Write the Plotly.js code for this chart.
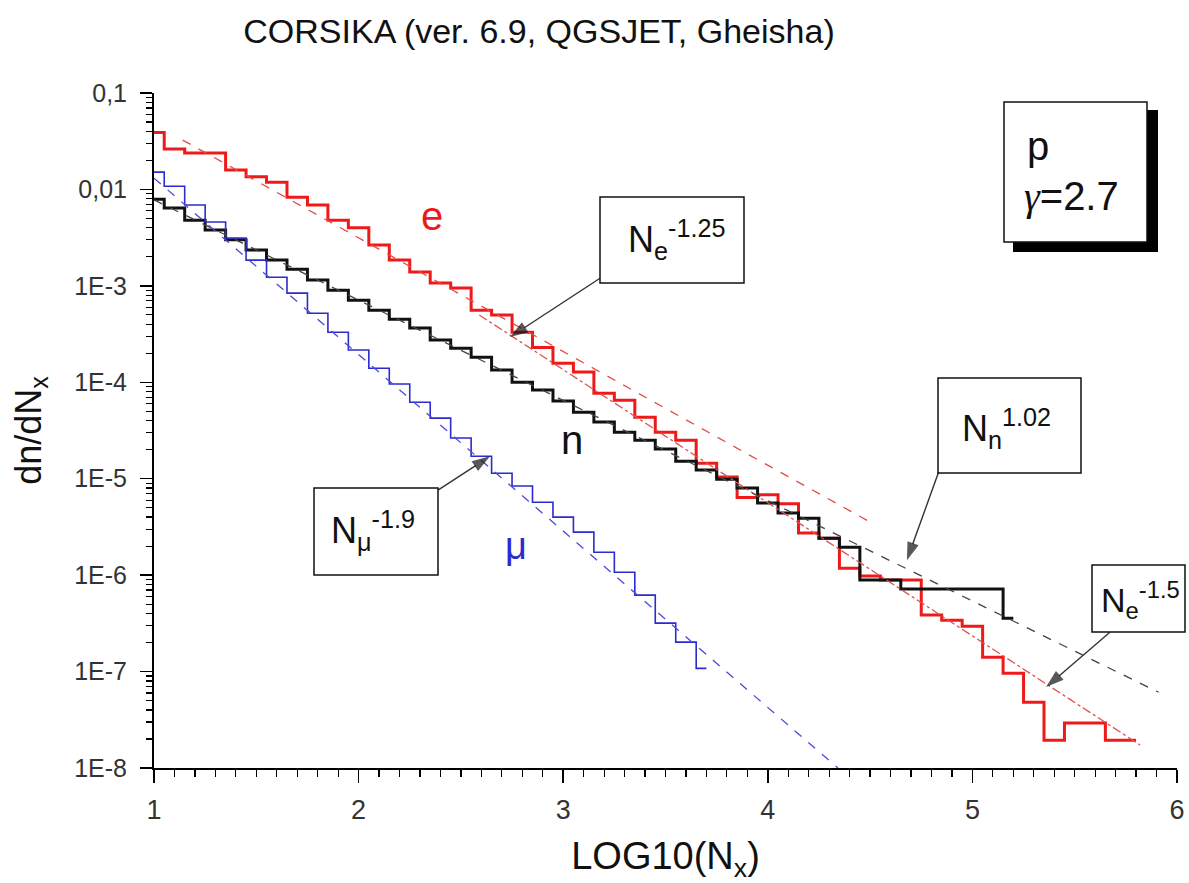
<!DOCTYPE html>
<html>
<head>
<meta charset="utf-8">
<script src="https://cdn.plot.ly/plotly-3.0.1.min.js"></script>
<style>
  html, body { margin: 0; padding: 0; background: #fff; }
  #chart { width: 1189px; height: 883px; }
</style>
</head>
<body>
<div id="chart"></div>
<script>
// Bin centres, LOG10(N_x), bin width 0.1
const eBins = [1.0,1.1,1.2,1.3,1.4,1.5,1.6,1.7,1.8,1.9,2.0,2.1,2.2,2.3,2.4,2.5,2.6,2.7,2.8,2.9,
               3.0,3.1,3.2,3.3,3.4,3.5,3.6,3.7,3.8,3.9,4.0,4.1,4.2,4.3,4.4,4.5,4.6,4.7,4.8,4.9,
               5.0,5.1,5.2,5.3,5.4,5.5,5.6,5.7,5.8];
const eVals = [3.9e-2,2.62e-2,2.39e-2,2.39e-2,1.59e-2,1.35e-2,1.19e-2,8.3e-3,6.9e-3,4.8e-3,
               4.0e-3,2.65e-3,1.85e-3,1.39e-3,1.07e-3,9.5e-4,5.6e-4,5.0e-4,3.3e-4,2.3e-4,
               1.58e-4,1.28e-4,7.7e-5,6.5e-5,4.35e-5,3.04e-5,2.51e-5,1.45e-5,1.04e-5,6.4e-6,
               6.8e-6,5.5e-6,2.73e-6,2.42e-6,1.18e-6,9.8e-7,8.9e-7,8.9e-7,3.85e-7,3.4e-7,
               2.96e-7,1.41e-7,9.6e-8,4.8e-8,1.94e-8,2.92e-8,2.92e-8,1.94e-8,1.94e-8];

const nBins = [1.0,1.1,1.2,1.3,1.4,1.5,1.6,1.7,1.8,1.9,2.0,2.1,2.2,2.3,2.4,2.5,2.6,2.7,2.8,2.9,
               3.0,3.1,3.2,3.3,3.4,3.5,3.6,3.7,3.8,3.9,4.0,4.1,4.2,4.3,4.4,4.5,4.6,4.7,4.8,4.9,
               5.0,5.1,5.2];
const nVals = [7.9e-3,6.4e-3,4.8e-3,3.8e-3,3.0e-3,2.35e-3,1.85e-3,1.49e-3,1.15e-3,9.0e-4,
               7.1e-4,5.6e-4,4.5e-4,3.65e-4,2.74e-4,2.26e-4,1.82e-4,1.34e-4,1.0e-4,8.3e-5,
               6.4e-5,4.9e-5,3.87e-5,3.04e-5,2.51e-5,2.03e-5,1.52e-5,1.23e-5,9.9e-6,8.0e-6,
               5.6e-6,4.4e-6,3.9e-6,2.42e-6,1.95e-6,8.9e-7,8.9e-7,7.2e-7,7.2e-7,7.2e-7,
               7.2e-7,7.2e-7,3.58e-7];

const muBins = [1.0,1.1,1.2,1.3,1.4,1.5,1.6,1.7,1.8,1.9,2.0,2.1,2.2,2.3,2.4,2.5,2.6,2.7,2.8,2.9,
                3.0,3.1,3.2,3.3,3.4,3.5,3.6,3.7];
const muVals = [1.51e-2,1.08e-2,6.9e-3,4.6e-3,3.13e-3,1.85e-3,1.23e-3,8.4e-4,5.2e-4,3.3e-4,
                2.16e-4,1.4e-4,9.6e-5,6.2e-5,4.25e-5,2.64e-5,1.71e-5,1.14e-5,8.4e-6,5.7e-6,
                4.0e-6,2.79e-6,1.73e-6,1.07e-6,6.2e-7,3.18e-7,2.02e-7,1.08e-7];

// Power-law fits (end points)
const eFitX = [1.14, 4.50];      const eFitY = [3.25e-2, 3.55e-6];    // N_e^-1.25
const eTailFitX = [2.59, 5.82];  const eTailFitY = [4.98e-4, 1.73e-8]; // N_e^-1.5
const nFitX = [1.0, 5.91];       const nFitY = [7.8e-3, 6.1e-8];      // N_n^1.02
const muFitX = [1.0, 4.343];     const muFitY = [1.31e-2, 1.0e-8];    // N_mu^-1.9

// Axis ticks
const yTickVals = [1e-8,1e-7,1e-6,1e-5,1e-4,1e-3,1e-2,1e-1];
const yTickText = ['1E-8','1E-7','1E-6','1E-5','1E-4','1E-3','0,01','0,1'];
const yMinorVals = [];
for (let k = -8; k < -1; k++) for (let d = 2; d <= 9; d++) yMinorVals.push(d * Math.pow(10, k));

const FONT = 'Liberation Sans, Arial, Helvetica, sans-serif';

function hist(x, y, color, width) {
  return { x, y, type: 'scatter', mode: 'lines', hoverinfo: 'skip',
           line: { shape: 'hvh', color, width } };
}
function fit(x, y, color, dash) {
  return { x, y, type: 'scatter', mode: 'lines', hoverinfo: 'skip',
           line: { color, width: 1.3, dash } };
}
// pointer from a label box (tail) to a curve (tip), head oriented along the segment
function pointer(tail, tip) {
  return { x: [tail[0], tip[0]], y: [tail[1], tip[1]], type: 'scatter', mode: 'lines+markers',
           hoverinfo: 'skip', line: { color: '#333', width: 1.4 },
           marker: { symbol: 'arrow', angleref: 'previous', size: [0, 19], color: '#111',
                     line: { width: 0 } } };
}

const traces = [
  hist(eBins, eVals, '#ee1a1a', 3),
  hist(nBins, nVals, '#111111', 3),
  hist(muBins, muVals, '#2b2bcf', 1.6),
  fit(eFitX, eFitY, '#e84a4a', 'dash'),
  fit(eTailFitX, eTailFitY, '#e05050', 'dashdot'),
  fit(nFitX, nFitY, '#444444', 'dash'),
  fit(muFitX, muFitY, '#4a4ad8', 'dash'),
  pointer([3.18, 1.2e-3], [2.74, 2.94e-4]),
  pointer([4.842, 1.29e-5], [4.68, 1.43e-6]),
  pointer([2.388, 7.6e-6], [2.642, 1.71e-5]),
  pointer([5.672, 2.56e-7], [5.36, 6.9e-8])
];

// page pixel -> paper fraction (plot area 154..1177 x 93..768)
const fx = px => (px - 154) / 1023;
const fy = py => (768 - py) / 675;

function rect(x0, y0, x1, y1, fill, lw) {
  return { type: 'rect', xref: 'paper', yref: 'paper', layer: 'above',
           x0: fx(x0), x1: fx(x1), y0: fy(y1), y1: fy(y0),
           fillcolor: fill, line: { color: '#111', width: lw } };
}

const shapes = [
  rect(600, 197, 744, 283, '#fff', 1.5),
  rect(938, 378, 1081, 473, '#fff', 1.5),
  rect(314, 488, 438, 575, '#fff', 1.5),
  rect(1092, 565, 1185, 632, '#fff', 1.5),
  rect(1013, 110, 1158, 252, '#000', 0),
  rect(1004, 102, 1147, 242, '#fff', 1.5)
];

function label(px, py, text, size, color, xanchor) {
  return { xref: 'paper', yref: 'paper', x: fx(px), y: fy(py), text, showarrow: false,
           xanchor: xanchor || 'center', yanchor: 'middle',
           font: { family: FONT, size, color } };
}

const annotations = [
  label(432, 216, 'e', 40, '#ee1a1a'),
  label(572, 440, 'n', 40, '#111'),
  label(516, 546, 'μ', 38, '#2b2bcf'),
  label(676, 240, 'N<sub>e</sub><sup>-1.25</sup>', 36, '#111'),
  label(1006, 428, 'N<sub>n</sub><sup>1.02</sup>', 36, '#111'),
  label(373, 530, 'N<sub>μ</sub><sup>-1.9</sup>', 36, '#111'),
  label(1140, 600, 'N<sub>e</sub><sup>-1.5</sup>', 34, '#111'),
  label(1025, 146, 'p', 40, '#111', 'left'),
  label(1022, 196, '<span style="font-family:Liberation Serif,serif;font-style:italic">γ</span>=2.7', 40, '#111', 'left')
];

const layout = {
  width: 1189, height: 883,
  margin: { l: 154, r: 12, t: 93, b: 115 },
  paper_bgcolor: '#fff', plot_bgcolor: '#fff',
  showlegend: false,
  font: { family: FONT, color: '#222' },
  title: { text: 'CORSIKA (ver. 6.9, QGSJET, Gheisha)', x: 539 / 1189, xanchor: 'center',
           y: 1 - 31 / 883, yanchor: 'middle', font: { family: FONT, size: 34, color: '#111' } },
  xaxis: {
    range: [1, 6], tick0: 1, dtick: 1, showgrid: false, zeroline: false,
    showline: true, linewidth: 2, linecolor: '#000',
    ticks: 'outside', ticklen: 13, tickwidth: 1.5, tickcolor: '#000',
    minor: { ticks: 'outside', dtick: 0.1, ticklen: 7, tickwidth: 1.2, tickcolor: '#000', showgrid: false },
    tickfont: { family: FONT, size: 27, color: '#333' },
    ticklabelstandoff: 4,
    title: { text: 'LOG10(N<sub>x</sub>)', standoff: 18, font: { family: FONT, size: 38, color: '#111' } }
  },
  yaxis: {
    type: 'log', range: [-8, -1], showgrid: false, zeroline: false,
    showline: true, linewidth: 2, linecolor: '#000',
    tickmode: 'array', tickvals: yTickVals, ticktext: yTickText,
    ticks: 'outside', ticklen: 12, tickwidth: 1.5, tickcolor: '#000',
    minor: { ticks: 'outside', tickmode: 'array', tickvals: yMinorVals, ticklen: 6, tickwidth: 1.2, tickcolor: '#000', showgrid: false },
    tickfont: { family: FONT, size: 25, color: '#333' },
    ticklabelstandoff: 8,
    title: { text: 'dn/dN<sub>x</sub>', standoff: 22, font: { family: FONT, size: 36, color: '#111' } }
  },
  shapes, annotations
};

Plotly.newPlot('chart', traces, layout, { staticPlot: true, displayModeBar: false });
</script>
</body>
</html>
